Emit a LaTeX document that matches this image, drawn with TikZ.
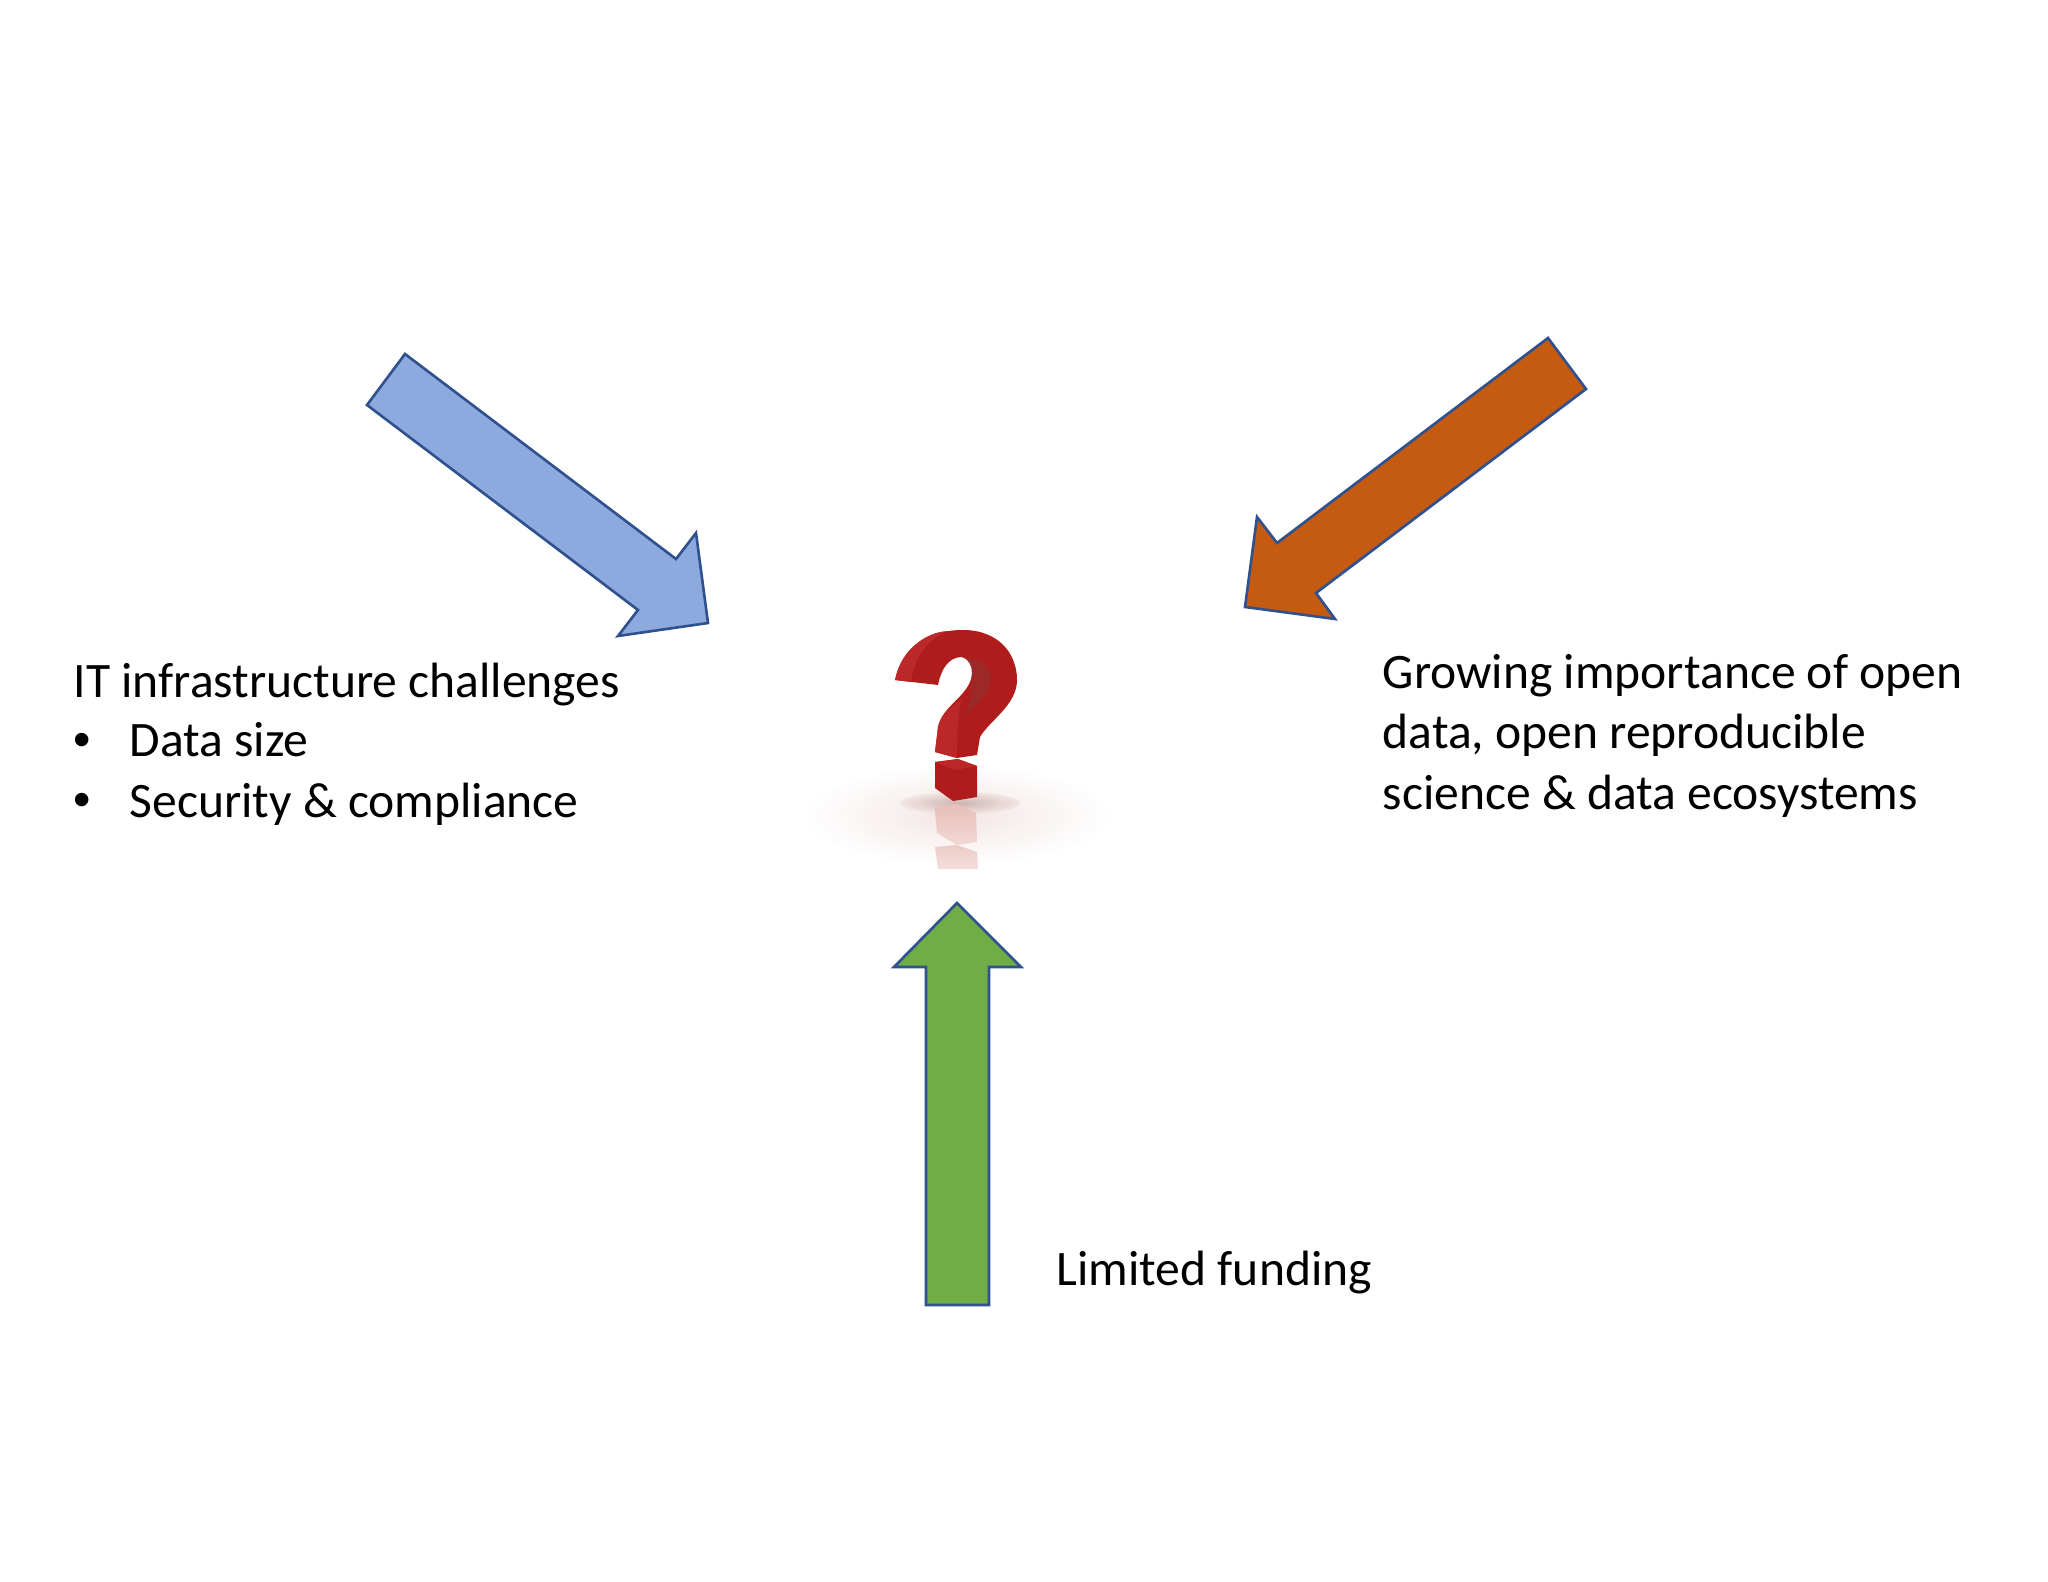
\documentclass[tikz,border=0pt]{standalone}
\usepackage{fontspec}
\setmainfont{Carlito}
\newfontfamily\bulletfont{Liberation Sans}
\definecolor{bluefill}{RGB}{142,169,222}
\definecolor{orangefill}{RGB}{197,90,17}
\definecolor{greenfill}{RGB}{112,173,71}
\definecolor{edgeblue}{RGB}{47,82,143}
\definecolor{qred}{RGB}{176,28,28}
\definecolor{qdark}{RGB}{156,40,40}
\definecolor{qlight}{RGB}{188,40,40}
\definecolor{qghost}{RGB}{232,190,184}
\definecolor{qhaze}{RGB}{242,230,228}
\definecolor{qbase}{RGB}{205,180,178}
\tikzset{
	arrowshape/.style={draw=edgeblue,line width=0.75pt,line join=miter},
	label/.style={anchor=north west,inner sep=0pt,font=\fontsize{14.1pt}{17.1pt}\selectfont,text=black,align=left}
}
\begin{document}
\begin{tikzpicture}[x=0.01cm,y=-0.01cm]
	\useasboundingbox (0,0) rectangle (2048,1582);
	% floor shadow
	\shade[inner color=qhaze,outer color=white] (957,815) ellipse (155 and 50);
	\shade[inner color=qbase,outer color=qhaze] (960,803) ellipse (60 and 11);
	% reflection
	\shade[top color=qghost,bottom color=qghost!60!white] (935,808) -- (957,804) -- (976,813) -- (977,842) -- (957,845) -- (937,833) -- cycle;
	\shade[top color=qghost!80!white,bottom color=qghost!50!white] (935,847) -- (957,845) -- (977,852) -- (978,869) -- (938,869) -- cycle;
	% question mark
	\fill[qred] (895,680) .. controls (902,645) and (930,630) .. (963,630)
		.. controls (998,630) and (1017,653) .. (1017,680)
		.. controls (1017,705) and (990,720) .. (980,737)
		-- (977,755) -- (957,758) -- (935,752) -- (938,727)
		.. controls (942,705) and (972,695) .. (972,672)
		.. controls (972,662) and (967,657) .. (962,657)
		.. controls (948,657) and (941,670) .. (938,685) -- cycle;
	\fill[qdark] (962,657) .. controls (978,658) and (990,662) .. (991,680)
		.. controls (990,695) and (975,705) .. (962,720)
		.. controls (970,705) and (972,690) .. (972,672)
		.. controls (972,665) and (968,659) .. (962,657) -- cycle;
	\fill[qlight] (895,680) .. controls (902,650) and (925,632) .. (948,631)
		.. controls (925,640) and (914,660) .. (911,682) -- cycle;
	\fill[qlight] (935,752) -- (938,727) .. controls (942,712) and (955,705) .. (962,698)
		.. controls (958,712) and (957,735) .. (957,758) -- cycle;
	\fill[qred] (935,762) -- (958,759) -- (977,766) -- (977,797) -- (953,801) -- (935,788) -- cycle;
	\fill[qlight] (935,762) -- (958,759) -- (977,766) -- (955,770) -- cycle;
	% arrows
	\draw[arrowshape,fill=bluefill] (405,354) -- (676,559) -- (696,533) -- (708,623) -- (618,636) -- (638,610) -- (367,405) -- cycle;
	\draw[arrowshape,fill=orangefill] (1548,338) -- (1277,543) -- (1257,517) -- (1245,607) -- (1335,619) -- (1316,593) -- (1586,389) -- cycle;
	\draw[arrowshape,fill=greenfill] (957,903) -- (1021,967) -- (989,967) -- (989,1305) -- (926,1305) -- (926,967) -- (894,967) -- cycle;
	% labels
	\node[label] (infra) at (73,662) {IT infrastructure challenges};
	\node[label] (datasize) at (129,722) {Data size};
	\node[label] (security) at (129,782) {Security \& compliance};
	\node[label] (bulleta) at (73,733) {\bulletfont •};
	\node[label] (bulletb) at (73,793) {\bulletfont •};
	\node[label] (opendata) at (1382,654) {Growing importance of open\\data, open reproducible\\science \& data ecosystems};
	\node[label] (funding) at (1056,1250) {Limited funding};
\end{tikzpicture}
\end{document}
